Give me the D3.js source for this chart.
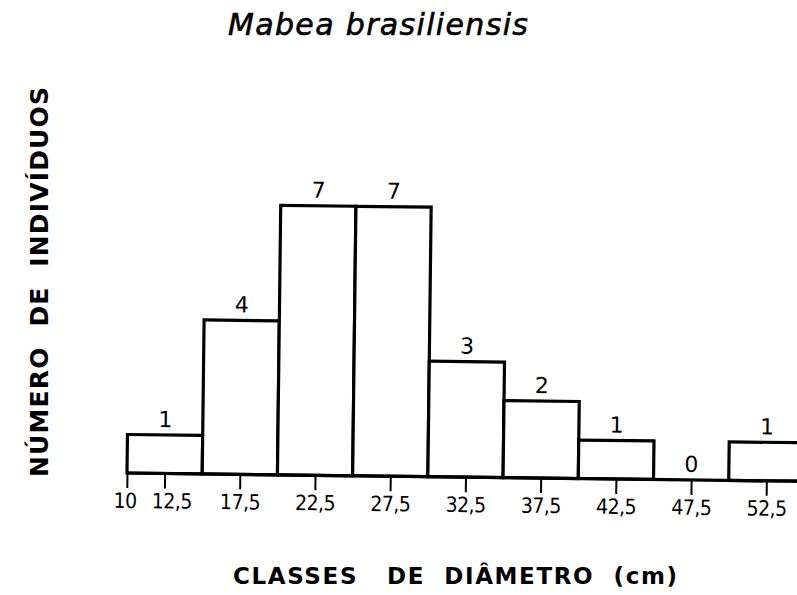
<!DOCTYPE html>
<html>
<head>
<meta charset="utf-8">
<script src="https://cdn.jsdelivr.net/npm/d3@7/dist/d3.min.js"></script>
<style>
  html, body { margin: 0; padding: 0; background: #fff; }
  svg { display: block; }
</style>
</head>
<body>
<div id="chart"></div>
<script>
// Diameter classes (cm): lower bound of each 5 cm class
const classStarts = [10, 15, 20, 25, 30, 35, 40, 45, 50];
const classWidth = 5;
// Number of individuals per class
const counts = [1, 4, 7, 7, 3, 2, 1, 0, 1];
// Axis ticks (class midpoints) and their printed labels
const tickValues = [10, 12.5, 17.5, 22.5, 27.5, 32.5, 37.5, 42.5, 47.5, 52.5];
const tickLabels = ["10", "12,5", "17,5", "22,5", "27,5", "32,5", "37,5", "42,5", "47,5", "52,5"];

const titleText = "Mabea brasiliensis";
const yTitle = "NÚMERO  DE  INDIVÍDUOS";
const xTitle = "CLASSES   DE  DIÂMETRO  (cm)";

const W = 797, H = 595;
const svg = d3.select("#chart").append("svg")
  .attr("width", W).attr("height", H)
  .style("background", "#fff");

const x = d3.scaleLinear().domain([10, 55]).range([127, 804]);
const y = d3.scaleLinear().domain([0, 8]).range([473, 165]);

// The hand-drawn plot sits very slightly askew
const plot = svg.append("g").attr("transform", "rotate(0.7,127,473)");

const bars = counts.map((c, i) => ({ start: classStarts[i], count: c }));

// Bars
plot.selectAll("rect.bar")
  .data(bars)
  .join("rect")
  .attr("class", "bar")
  .attr("x", d => x(d.start))
  .attr("y", d => y(d.count))
  .attr("width", d => x(d.start + classWidth) - x(d.start))
  .attr("height", d => y(0) - y(d.count))
  .attr("fill", "#fff")
  .attr("stroke", "#000")
  .attr("stroke-width", 3.2);

// Count labels above each bar
plot.selectAll("text.count")
  .data(bars)
  .join("text")
  .attr("class", "count")
  .attr("x", d => x(d.start + classWidth / 2))
  .attr("y", d => y(d.count) - 8)
  .attr("text-anchor", "middle")
  .attr("font-family", "DejaVu Sans, sans-serif")
  .attr("font-size", 22)
  .attr("fill", "#000")
  .text(d => d.count);

// Horizontal axis
const xAxis = d3.axisBottom(x)
  .tickValues(tickValues)
  .tickFormat((d, i) => tickLabels[i])
  .tickSize(15)
  .tickPadding(5);

const axisG = plot.append("g")
  .attr("transform", `translate(0,${y(0)})`)
  .call(xAxis);
axisG.select(".domain")
  .attr("d", `M${x(10)},0H${x(55)}`)
  .attr("stroke", "#000")
  .attr("stroke-width", 3.2);
axisG.selectAll(".tick line").attr("stroke", "#000").attr("stroke-width", 2);
axisG.selectAll(".tick text")
  .attr("font-family", "DejaVu Sans Condensed, sans-serif")
  .attr("font-size", 21)
  .attr("letter-spacing", -0.5)
  .attr("fill", "#000")
  // the two crowded labels at the left end are nudged apart
  .attr("dx", (d, i) => (i === 0 ? -2 : i === 1 ? 7 : 0));

// Title
svg.append("text")
  .attr("x", 228).attr("y", 35)
  .attr("textLength", 300)
  .attr("lengthAdjust", "spacing")
  .attr("font-family", "DejaVu Sans, sans-serif")
  .attr("font-style", "italic")
  .attr("font-size", 30)
  .attr("fill", "#000")
  .attr("stroke", "#000")
  .attr("stroke-width", 0.6)
  .text(titleText);

// Vertical axis title
svg.append("text")
  .attr("transform", "translate(48,477) rotate(-90)")
  .attr("x", 0).attr("y", 0)
  .attr("textLength", 390)
  .attr("lengthAdjust", "spacing")
  .style("white-space", "pre")
  .attr("font-family", "DejaVu Sans, sans-serif")
  .attr("font-weight", "bold")
  .attr("font-size", 25)
  .attr("fill", "#000")
  .text(yTitle);

// Horizontal axis title
svg.append("text")
  .attr("x", 233).attr("y", 584)
  .attr("textLength", 444)
  .attr("lengthAdjust", "spacing")
  .style("white-space", "pre")
  .attr("font-family", "DejaVu Sans, sans-serif")
  .attr("font-weight", "bold")
  .attr("font-size", 23)
  .attr("fill", "#000")
  .text(xTitle);
</script>
</body>
</html>
